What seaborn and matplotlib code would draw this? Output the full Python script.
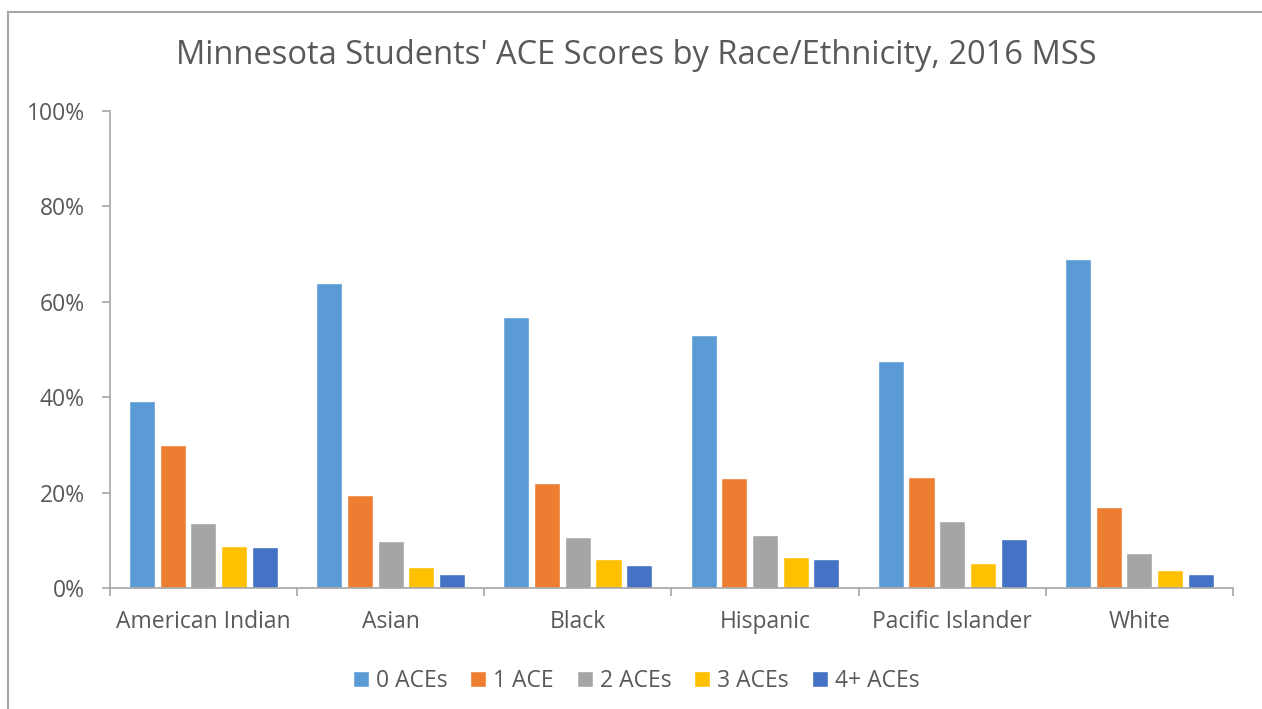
import seaborn as sns
import matplotlib.pyplot as plt
import pandas as pd
from matplotlib.patches import Rectangle
from matplotlib.ticker import PercentFormatter, FixedLocator

# data (percent of students)
races = ["American Indian", "Asian", "Black", "Hispanic", "Pacific Islander", "White"]
ace_groups = ["0 ACEs", "1 ACE", "2 ACEs", "3 ACEs", "4+ ACEs"]
ace_0 = [39.2, 63.9, 56.8, 53.0, 47.5, 68.9]
ace_1 = [30.0, 19.5, 22.0, 23.1, 23.2, 17.0]
ace_2 = [13.6, 9.9, 10.7, 11.1, 14.1, 7.4]
ace_3 = [8.8, 4.3, 6.1, 6.5, 5.2, 3.8]
ace_4 = [8.6, 2.9, 4.8, 6.1, 10.2, 3.0]
colors = ["#5b9bd5", "#ed7d31", "#a5a5a5", "#ffc000", "#4472c4"]

rows = []
for grp, vals in zip(ace_groups, [ace_0, ace_1, ace_2, ace_3, ace_4]):
    for race, v in zip(races, vals):
        rows.append({"race": race, "group": grp, "pct": v})
df = pd.DataFrame(rows)

sns.set_theme(style="white")
plt.rcParams['font.family'] = ['Open Sans', 'DejaVu Sans']
txt = "#595959"
axis_col = "#a6a6a6"

fig = plt.figure(figsize=(12.62, 7.09), dpi=100)
ax = fig.add_axes([0.087, 0.1707, 0.890, 0.6727])

sns.barplot(data=df, x="race", y="pct", hue="group", order=races,
            hue_order=ace_groups, palette=colors, width=0.82, gap=0.15,
            saturation=1, ax=ax, legend=True)

ax.set_ylim(0, 100)
ax.set_xlim(-0.5, len(races) - 0.5)
ax.yaxis.set_major_locator(FixedLocator([0, 20, 40, 60, 80, 100]))
ax.yaxis.set_major_formatter(PercentFormatter(decimals=0))
ax.set_xlabel("")
ax.set_ylabel("")

for s in ["top", "right"]:
    ax.spines[s].set_visible(False)
for s in ["left", "bottom"]:
    ax.spines[s].set_color(axis_col)
    ax.spines[s].set_linewidth(1.2)

ax.tick_params(axis="y", which="major", left=True, length=6, width=1.2,
               color=axis_col, labelsize=16.5, labelcolor=txt, pad=12)
ax.tick_params(axis="x", which="major", bottom=False, labelsize=16.5,
               labelcolor=txt, pad=10)
ax.set_xticks([i - 0.5 for i in range(len(races) + 1)], minor=True)
ax.tick_params(axis="x", which="minor", bottom=True, length=6, width=1.2,
               color=axis_col)

# title centred on the whole chart, not the axes
fig.text(0.504, 0.922, "Minnesota Students' ACE Scores by Race/Ethnicity, 2016 MSS",
         ha="center", va="center", fontsize=23.5, color=txt)

handles, labels = ax.get_legend_handles_labels()
ax.legend_.remove()
fig.legend(handles, labels, loc="center", bbox_to_anchor=(0.504, 0.04),
           ncol=5, frameon=False, fontsize=16.5, labelcolor=txt,
           handlelength=0.7, handleheight=0.7, handletextpad=0.3,
           columnspacing=1.0)

# chart border (left and top visible in the reference)
fig.patches.append(Rectangle((7.5 / 1262, -0.01), 1.1, 1 - 11.5 / 709 + 0.01,
                             transform=fig.transFigure, fill=False,
                             edgecolor="#a6a6a6", linewidth=1.5))

fig.savefig("out.png", dpi=100)
